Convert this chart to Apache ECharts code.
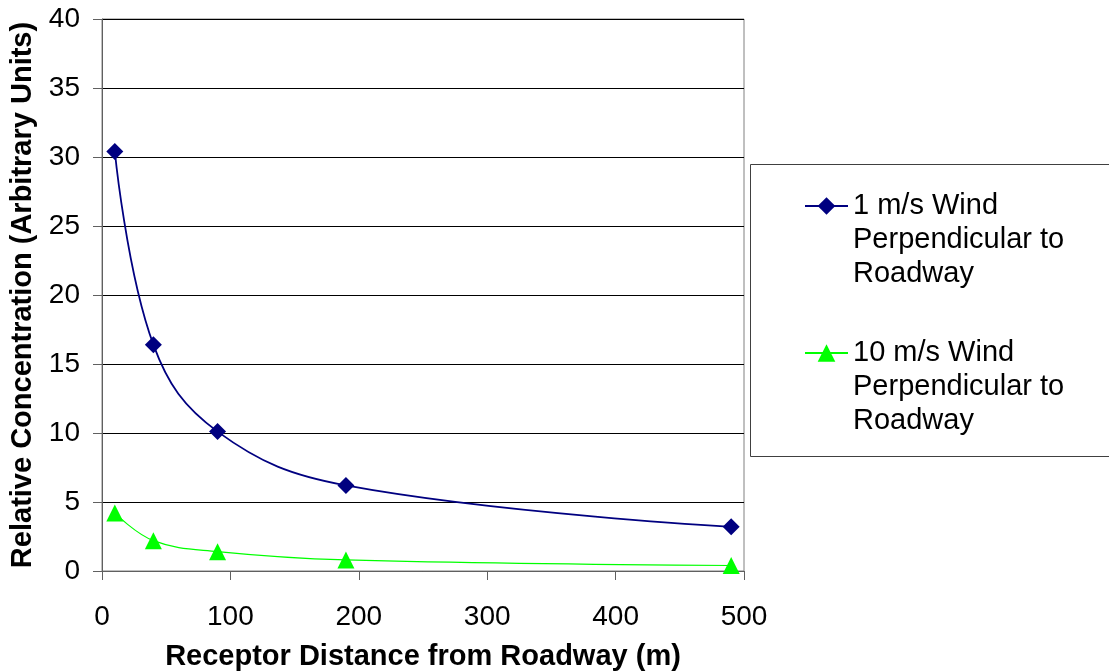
<!DOCTYPE html>
<html>
<head>
<meta charset="utf-8">
<script src="https://cdn.jsdelivr.net/npm/echarts@6/dist/echarts.min.js"></script>
<style>
html,body{margin:0;padding:0;background:#fff;}
#chart{width:1109px;height:672px;}
</style>
</head>
<body>
<div id="chart"></div>
<script>
var distances = [10, 40, 90, 190, 490];
var wind1 = [30.4, 16.4, 10.1, 6.2, 3.2];
var wind10 = [4.2, 2.2, 1.4, 0.8, 0.4];
var seriesNames = ['1 m/s Wind Perpendicular to Roadway', '10 m/s Wind Perpendicular to Roadway'];
var legendLines = [
  ['1 m/s Wind', 'Perpendicular to', 'Roadway'],
  ['10 m/s Wind', 'Perpendicular to', 'Roadway']
];
var xTitle = 'Receptor Distance from Roadway (m)';
var yTitle = 'Relative Concentration (Arbitrary Units)';

function pairs(xs, ys) { return xs.map(function (x, i) { return [x, ys[i]]; }); }

var FONT = '"Liberation Sans", Arial, sans-serif';
var chart = echarts.init(document.getElementById('chart'), null, {renderer: 'canvas'});

var legendText = {fontFamily: FONT, fontSize: 29, color: '#000', lineHeight: 34};

// two blank lines before the text so that the icon lines up with the first text line
function legendLabel(i) { return function () { return '\n\n' + legendLines[i].join('\n'); }; }

chart.setOption({
  animation: false,
  backgroundColor: '#fff',
  grid: {left: 102, right: 365, top: 19, bottom: 101, show: true, borderColor: '#808080', borderWidth: 1,
         backgroundColor: 'transparent', containLabel: false, outerBoundsMode: 'none'},
  xAxis: {
    type: 'value', min: 0, max: 500, interval: 100,
    name: xTitle, nameLocation: 'middle', nameGap: 71,
    nameTextStyle: {fontFamily: FONT, fontSize: 29, fontWeight: 'bold', color: '#000'},
    axisLine: {show: true, onZero: false, lineStyle: {color: '#606060', width: 1}},
    axisTick: {show: true, inside: false, length: 9, lineStyle: {color: '#606060'}},
    axisLabel: {fontFamily: FONT, fontSize: 28, color: '#000', margin: 32},
    splitLine: {show: false}
  },
  yAxis: {
    type: 'value', min: 0, max: 40, interval: 5,
    name: yTitle, nameLocation: 'middle', nameGap: 56,
    nameTextStyle: {fontFamily: FONT, fontSize: 29, fontWeight: 'bold', color: '#000'},
    axisLine: {show: true, lineStyle: {color: '#606060', width: 1}},
    axisTick: {show: true, inside: false, length: 9, lineStyle: {color: '#606060'}},
    axisLabel: {fontFamily: FONT, fontSize: 28, color: '#000', margin: 22},
    splitLine: {show: true, lineStyle: {color: '#000', width: 1}}
  },
  legend: [
    {
      data: [seriesNames[0]], orient: 'vertical', left: 804, top: 121, padding: 0,
      itemWidth: 43, itemHeight: 22,
      formatter: legendLabel(0),
      textStyle: legendText
    },
    {
      data: [seriesNames[1]], orient: 'vertical', left: 804, top: 268, padding: 0,
      itemWidth: 43, itemHeight: 22,
      formatter: legendLabel(1),
      textStyle: legendText
    }
  ],
  graphic: [{
    type: 'rect', z: -1,
    shape: {x: 750.5, y: 164.5, width: 400, height: 292},
    style: {fill: '#fff', stroke: '#404040', lineWidth: 1}
  }],
  series: [
    {
      name: seriesNames[0], type: 'line', data: pairs(distances, wind1),
      smooth: 0.4, symbol: 'diamond', symbolSize: 17,
      lineStyle: {color: '#000080', width: 1.8},
      itemStyle: {color: '#000080'}
    },
    {
      name: seriesNames[1], type: 'line', data: pairs(distances, wind10),
      smooth: 0.4, symbol: 'triangle', symbolSize: 17,
      lineStyle: {color: '#00ff00', width: 1.2},
      itemStyle: {color: '#00ff00'}
    }
  ]
});
</script>
</body>
</html>
